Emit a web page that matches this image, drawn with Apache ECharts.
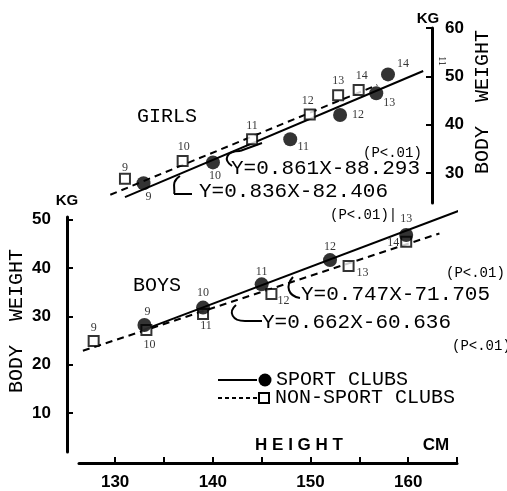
<!DOCTYPE html>
<html>
<head>
<meta charset="utf-8">
<script src="https://cdn.jsdelivr.net/npm/echarts@6/dist/echarts.min.js"></script>
<style>
  html, body { margin: 0; padding: 0; background: #fff; }
  #chart { width: 507px; height: 491px; }
</style>
</head>
<body>
<div id="chart"></div>
<script>
  // ages shown next to each point
  var ages = [9, 10, 11, 12, 13, 14]

  // girls (upper panel), height cm / weight kg
  var girlsSportH = [132.9, 140.0, 147.9, 153.0, 156.7, 157.9]
  var girlsSportW = [27.9, 32.2, 37.0, 42.0, 46.5, 50.4]
  var girlsNonH = [131.0, 136.9, 144.0, 149.9, 152.8, 154.9]
  var girlsNonW = [28.8, 32.5, 37.0, 42.1, 46.1, 47.2]
  // regression line ends
  var girlsSportLineH = [131.0, 161.5]
  var girlsSportLineW = [25.0, 51.1]
  var girlsNonLineH = [129.5, 156.8]
  var girlsNonLineW = [25.5, 48.2]

  // boys (lower panel)
  var boysSportH = [133.0, 139.0, 145.0, 152.0, 159.8, 163.8]
  var boysSportW = [28.2, 31.8, 36.6, 41.6, 46.8, 51.3]
  var boysNonH = [127.8, 133.2, 139.0, 146.0, 153.9, 159.8]
  var boysNonW = [24.9, 27.2, 30.5, 34.6, 40.4, 45.4]
  var boysSportLineH = [132.9, 165.6]
  var boysSportLineW = [27.2, 52.1]
  var boysNonLineH = [126.7, 163.2]
  var boysNonLineW = [22.9, 47.1]

  // tick values
  var xTicks = [130, 135, 140, 145, 150, 155, 160, 165]
  var xLabels = [130, 140, 150, 160]
  var girlsYTicks = [30, 40, 50, 60]
  var boysYTicks = [10, 20, 30, 40, 50]

  // age label offsets (px from point centre)
  var girlsSportOff = [[5, 14], [2, 13], [13, 8], [18, 0], [13, 10], [15, -11]]
  var girlsNonOff = [[0, -11], [1, -14], [0, -13], [-2, -14], [0, -14], [3, -14]]
  var boysSportOff = [[3, -13], [0, -15], [0, -13], [0, -13], [0, -16], [3, -14]]
  var boysNonOff = [[0, -13], [3, 15], [3, 12], [12, 7], [14, 7], [-13, 1]]

  var myChart = echarts.init(document.getElementById('chart'))

  function pts (hs, ws, offs) {
    return hs.map(function (h, i) {
      return { value: [h, ws[i]], label: { offset: offs[i] } }
    })
  }
  function linePts (hs, ws) {
    return hs.map(function (h, i) { return [h, ws[i]] })
  }

  var ageLabel = {
    show: true,
    position: 'inside',
    color: '#000',
    fontFamily: 'Liberation Serif',
    fontSize: 12,
    formatter: function (p) { return ages[p.dataIndex] }
  }
  var dot = { type: 'scatter', symbol: 'circle', symbolSize: 14, itemStyle: { color: '#000' }, label: ageLabel, z: 5 }
  var box = { type: 'scatter', symbol: 'rect', symbolSize: 10, itemStyle: { color: '#fff', borderColor: '#000', borderWidth: 2 }, label: ageLabel, z: 4 }
  var solid = { type: 'line', showSymbol: false, clip: false, lineStyle: { color: '#000', width: 2 }, z: 2 }
  var dashed = { type: 'line', showSymbol: false, clip: false, lineStyle: { color: '#000', width: 2, type: [7, 5] }, z: 2 }

  function s (base, extra) { return Object.assign({}, base, extra) }

  var monoFont = '21px "Liberation Mono"'
  var smallFont = '14px "Liberation Mono"'
  var labelFont = '20px "Liberation Mono"'
  var boldFont = 'bold 17px "Liberation Sans"'

  function txt (text, x, y, font, align, rot) {
    return {
      type: 'text', x: x, y: y, rotation: rot || 0,
      style: { text: text, font: font, fill: '#000', textAlign: align || 'left', textVerticalAlign: 'middle' }
    }
  }
  function curve (x1, y1, c1x, c1y, c2x, c2y, x2, y2) {
    return {
      type: 'bezierCurve',
      shape: { x1: x1, y1: y1, cpx1: c1x, cpy1: c1y, cpx2: c2x, cpy2: c2y, x2: x2, y2: y2 },
      style: { stroke: '#000', lineWidth: 2, fill: null }
    }
  }
  function seg (x1, y1, x2, y2, dash) {
    return {
      type: 'line',
      shape: { x1: x1, y1: y1, x2: x2, y2: y2 },
      style: { stroke: '#000', lineWidth: 2, lineDash: dash || null }
    }
  }

  var option = {
    animation: false,
    backgroundColor: '#fff',
    grid: [
      { left: 79, right: 75, top: 28, bottom: 288 },
      { left: 79, right: 50, top: 217, bottom: 39 }
    ],
    xAxis: [
      { gridIndex: 0, type: 'value', min: 126.3, max: 162.4, show: false },
      {
        gridIndex: 1,
        type: 'value',
        min: 126.3,
        max: 165,
        offset: 11,
        splitLine: { show: false },
        axisLine: { show: true, lineStyle: { color: '#000', width: 3 } },
        axisTick: { show: true, inside: true, length: 6, customValues: xTicks, lineStyle: { color: '#000', width: 2 } },
        axisLabel: { customValues: xLabels, margin: 11, color: '#000', fontFamily: 'Liberation Sans', fontWeight: 'bold', fontSize: 17 }
      }
    ],
    yAxis: [
      {
        gridIndex: 0,
        type: 'value',
        position: 'right',
        min: 23.8,
        max: 60,
        splitLine: { show: false },
        axisLine: { show: true, lineStyle: { color: '#000', width: 3 } },
        axisTick: { show: true, inside: true, length: 6, customValues: girlsYTicks, lineStyle: { color: '#000', width: 2 } },
        axisLabel: { customValues: girlsYTicks, margin: 13, color: '#000', fontFamily: 'Liberation Sans', fontWeight: 'bold', fontSize: 17 }
      },
      {
        gridIndex: 1,
        type: 'value',
        min: 2,
        max: 50.5,
        offset: 12,
        splitLine: { show: false },
        axisLine: { show: true, lineStyle: { color: '#000', width: 3 } },
        axisTick: { show: true, inside: true, length: 6, customValues: boysYTicks, lineStyle: { color: '#000', width: 2 } },
        axisLabel: { customValues: boysYTicks, margin: 16, color: '#000', fontFamily: 'Liberation Sans', fontWeight: 'bold', fontSize: 17 }
      }
    ],
    series: [
      s(solid, { xAxisIndex: 0, yAxisIndex: 0, data: linePts(girlsSportLineH, girlsSportLineW) }),
      s(dashed, { xAxisIndex: 0, yAxisIndex: 0, data: linePts(girlsNonLineH, girlsNonLineW) }),
      s(box, { xAxisIndex: 0, yAxisIndex: 0, data: pts(girlsNonH, girlsNonW, girlsNonOff) }),
      s(dot, { xAxisIndex: 0, yAxisIndex: 0, data: pts(girlsSportH, girlsSportW, girlsSportOff) }),
      s(solid, { xAxisIndex: 1, yAxisIndex: 1, data: linePts(boysSportLineH, boysSportLineW) }),
      s(dashed, { xAxisIndex: 1, yAxisIndex: 1, data: linePts(boysNonLineH, boysNonLineW) }),
      s(box, { xAxisIndex: 1, yAxisIndex: 1, data: pts(boysNonH, boysNonW, boysNonOff) }),
      s(dot, { xAxisIndex: 1, yAxisIndex: 1, data: pts(boysSportH, boysSportW, boysSportOff) })
    ],
    graphic: [
      txt('GIRLS', 137, 117, labelFont),
      txt('BOYS', 133, 286, labelFont),
      txt('Y=0.861X-88.293', 231, 168, monoFont),
      txt('(P<.01)', 363, 153, smallFont),
      txt('Y=0.836X-82.406', 199, 191, monoFont),
      txt('(P<.01)|', 330, 215, smallFont),
      txt('Y=0.747X-71.705', 301, 294, monoFont),
      txt('(P<.01)', 446, 273, smallFont),
      txt('Y=0.662X-60.636', 262, 322, monoFont),
      txt('(P<.01)', 452, 346, smallFont),
      // curly pointers
      curve(232, 166, 223, 160, 226, 151, 240, 151),
      seg(240, 151, 262, 143),
      curve(180, 176, 170, 182, 176, 190, 174, 194),
      seg(174, 194, 192, 194),
      curve(293, 277, 285, 286, 288, 296, 300, 298),
      curve(236, 305, 228, 312, 232, 321, 245, 321),
      seg(245, 321, 262, 321),
      // legend
      seg(218, 380, 257, 380),
      { type: 'circle', shape: { cx: 265, cy: 380, r: 6.5 }, style: { fill: '#000' } },
      txt('SPORT CLUBS', 276, 380, labelFont),
      seg(218, 398, 257, 398, [4, 3]),
      { type: 'rect', shape: { x: 259, y: 393, width: 10, height: 10 }, style: { fill: '#fff', stroke: '#000', lineWidth: 2 } },
      txt('NON-SPORT CLUBS', 275, 398, labelFont),
      // axis names
      txt('KG', 67, 201, 'bold 15px "Liberation Sans"', 'center'),
      txt('KG', 428, 19, 'bold 15px "Liberation Sans"', 'center'),
      txt('H E I G H T', 299, 445, boldFont, 'center'),
      txt('CM', 436, 445, boldFont, 'center'),
      txt('BODY  WEIGHT', 483, 102, labelFont, 'center', Math.PI / 2),
      txt('BODY  WEIGHT', 17, 321, labelFont, 'center', Math.PI / 2),
      txt('11', 442, 61, '10px "Liberation Serif"', 'center', -Math.PI / 2)
    ]
  }
  myChart.setOption(option)
</script>
</body>
</html>
